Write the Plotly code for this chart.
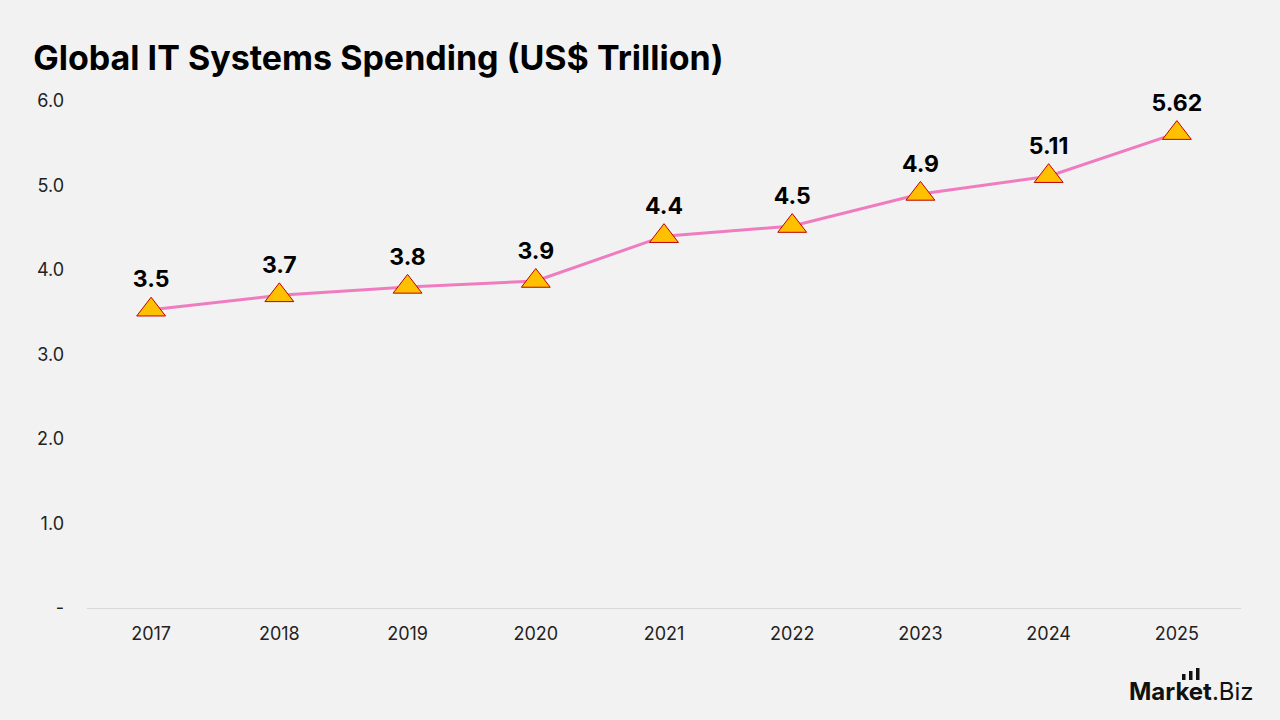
import plotly.graph_objects as go

years = ["2017", "2018", "2019", "2020", "2021", "2022", "2023", "2024", "2025"]
spending = [3.53, 3.70, 3.80, 3.87, 4.40, 4.52, 4.90, 5.11, 5.62]
labels = ["3.5", "3.7", "3.8", "3.9", "4.4", "4.5", "4.9", "5.11", "5.62"]
y_ticks = [0, 1, 2, 3, 4, 5, 6]
y_tick_text = ["-", "1.0", "2.0", "3.0", "4.0", "5.0", "6.0"]

FONT = "Inter"

fig = go.Figure()
fig.add_trace(go.Scatter(
    x=years, y=spending, mode="lines+markers+text",
    text=labels, textposition="top center",
    textfont=dict(family=FONT, size=23, color="#000000", weight="bold"),
    line=dict(color="#F07CC0", width=3),
    marker=dict(symbol="triangle-up", size=25, color="#FFC000",
                line=dict(color="#C00000", width=1)),
    cliponaxis=False, showlegend=False,
))

fig.update_layout(
    width=1280, height=720,
    paper_bgcolor="#F2F2F2", plot_bgcolor="#F2F2F2",
    margin=dict(l=87, r=39, t=101, b=112),
    title=dict(text="<b>Global IT Systems Spending (US$ Trillion)</b>",
               x=0.026, xanchor="left", y=0.92, yanchor="middle",
               font=dict(family=FONT, size=34, color="#000000")),
    xaxis=dict(type="category", range=[-0.5, 8.5], showgrid=False, showline=True,
               linecolor="#D9D9D9", linewidth=1, ticks="", ticklabelstandoff=9,
               tickfont=dict(family=FONT, size=18, color="#222222")),
    yaxis=dict(range=[0, 6], tickvals=y_ticks, ticktext=y_tick_text, showgrid=False,
               zeroline=False, showline=False, ticks="", ticklabelstandoff=22,
               tickfont=dict(family=FONT, size=18, color="#222222")),
)

# logo
fig.add_annotation(xref="paper", yref="paper", x=1.013, y=-0.165, xanchor="right", yanchor="middle",
                   text="<b>Market</b>.Biz", showarrow=False,
                   font=dict(family=FONT, size=24, color="#111111"))
for bx, h in [(1182, 6), (1189, 9), (1196, 12)]:
    fig.add_shape(type="rect", xref="x domain", yref="paper",
                  x0=(bx - 87) / 1154, x1=(bx + 3.5 - 87) / 1154,
                  y0=(608 - 680) / 507, y1=(608 - 680 + h) / 507,
                  fillcolor="#111111", line_width=0)

fig.write_html("out.html")
